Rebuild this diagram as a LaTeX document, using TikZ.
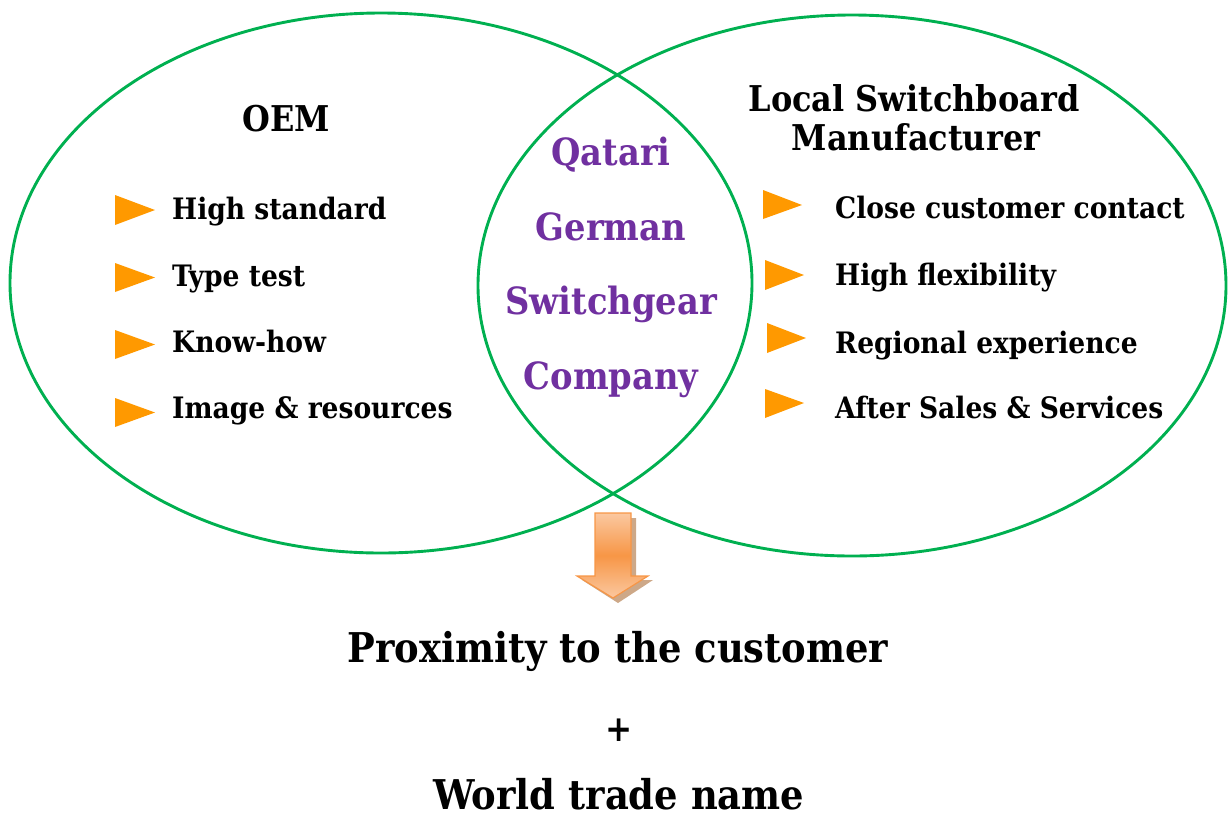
\documentclass[tikz,border=0pt]{standalone}
\usepackage{fontspec}
\newfontfamily\gfont{DejaVuSerifCondensed-Bold.ttf}
\usetikzlibrary{shapes.geometric}
\definecolor{vgreen}{HTML}{00B050}
\definecolor{bulorange}{HTML}{FF9900}
\definecolor{vpurple}{HTML}{7030A0}
\definecolor{arrdark}{HTML}{F79646}
\definecolor{arrlight}{HTML}{FBC8A0}
\definecolor{arrshadow}{HTML}{CDA888}
\tikzset{
  venn/.style={ellipse, draw=vgreen, line width=2.9pt, inner sep=0pt},
  item/.style={font=\gfont\fontsize{29.5}{34}\selectfont, anchor=base west, inner sep=0pt, text=black},
  title/.style={font=\gfont\fontsize{35.5}{42}\selectfont, anchor=base, inner sep=0pt, text=black},
  core/.style={font=\gfont\fontsize{37.5}{44}\selectfont, anchor=base, inner sep=0pt, text=vpurple},
  result/.style={font=\gfont\fontsize{41}{48}\selectfont, anchor=base, inner sep=0pt, text=black},
  bullet/.style={fill=bulorange},
}
\begin{document}
\begin{tikzpicture}[x=1pt,y=-1pt]
\useasboundingbox (0,0) rectangle (1228,820);
% Venn ellipses
\node[venn, minimum width=742pt, minimum height=540pt] (oem) at (381,283) {};
\node[venn, minimum width=748pt, minimum height=541pt] (local) at (852,285.5) {};
% titles
\node[title] (oemT) at (286,131) {OEM};
\node[title] (locT1) at (914,111) {Local Switchboard};
\node[title] (locT2) at (916,150) {Manufacturer};
% left bullets
\fill[bullet] (115,195) -- (155,210) -- (115,225) -- cycle;
\fill[bullet] (115,263) -- (155,277.5) -- (115,292) -- cycle;
\fill[bullet] (115,330) -- (155,344.5) -- (115,359) -- cycle;
\fill[bullet] (115,398) -- (155,412.5) -- (115,427) -- cycle;
\node[item] (l1) at (172,219) {High standard};
\node[item] (l2) at (172,286) {Type test};
\node[item] (l3) at (172,352) {Know-how};
\node[item] (l4) at (172,418) {Image \& resources};
% right bullets
\fill[bullet] (763,190) -- (802,205) -- (763,219) -- cycle;
\fill[bullet] (765,260) -- (804,275) -- (765,290) -- cycle;
\fill[bullet] (767,323) -- (806,338) -- (767,353) -- cycle;
\fill[bullet] (765,389) -- (804,403) -- (765,418) -- cycle;
\node[item] (r1) at (835,218) {Close customer contact};
\node[item] (r2) at (835,285) {High flexibility};
\node[item] (r3) at (835,353) {Regional experience};
\node[item] (r4) at (835,418) {After Sales \& Services};
% core
\node[core] (c1) at (611,165) {Qatari};
\node[core] (c2) at (611,240) {German};
\node[core] (c3) at (611,314) {Switchgear};
\node[core] (c4) at (611,389) {Company};
% arrow
\fill[arrshadow] (600,518) -- (636,518) -- (636,580) -- (653,580) -- (618,603) -- (582,580) -- (600,580) -- cycle;
\shade[top color=arrlight, bottom color=arrlight, middle color=arrdark, draw=arrdark, line width=1.2pt]
  (595,513) -- (631,513) -- (631,576) -- (648,576) -- (613,598) -- (577,576) -- (595,576) -- cycle;
% result
\node[result] (res1) at (618,662) {Proximity to the customer};
\node[font=\gfont\fontsize{36}{42}\selectfont, inner sep=0pt] (plus) at (619,730) {+};
\node[result, text depth=0pt] (res2) at (619,809) {World trade name};
\end{tikzpicture}
\end{document}
